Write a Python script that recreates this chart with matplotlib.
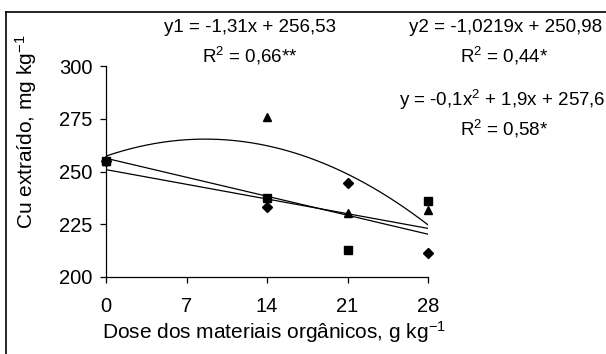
import numpy as np
import matplotlib
matplotlib.use("Agg")
import matplotlib.pyplot as plt
from matplotlib.lines import Line2D

plt.rcParams['font.family'] = ['Liberation Sans', 'DejaVu Sans']
plt.rcParams['mathtext.fontset'] = 'custom'
plt.rcParams['mathtext.rm'] = 'Liberation Sans'
plt.rcParams['mathtext.it'] = 'Liberation Sans'
plt.rcParams['mathtext.default'] = 'regular'

# dados
doses = [0, 7, 14, 21, 28]
x_obs = [0, 14, 21, 28]
y_losango = [255, 233.2, 244.5, 211.4]   # y1
y_quadrado = [255, 237.4, 212.7, 235.8]  # y2
y_triangulo = [255, 276.0, 230.4, 231.6]  # quadrática

eq_y1 = ["y1 = -1,31x + 256,53", "R$^{2}$ = 0,66**"]
eq_y2 = ["y2 = -1,0219x + 250,98", "R$^{2}$ = 0,44*"]
eq_y3 = ["y = -0,1x$^{2}$ + 1,9x + 257,6", "R$^{2}$ = 0,58*"]

fs_tick = 14.5
fs_lab = 15
fs_eq = 13.5

fig = plt.figure(figsize=(6.06, 3.54), dpi=100)
ax = fig.add_axes([106/606, 1 - 277/354, (428 - 106)/606, (277 - 66)/354])

# linhas de tendência
xx = np.linspace(0, 28, 200)
for ys, grau in [(y_losango, 1), (y_quadrado, 1), (y_triangulo, 2)]:
    coef = np.polyfit(x_obs, ys, grau)
    ax.plot(xx, np.polyval(coef, xx), color='black', lw=0.9, zorder=2)

ax.plot(x_obs, y_losango, 'D', color='black', ms=5, zorder=3, clip_on=False)
ax.plot(x_obs, y_triangulo, '^', color='black', ms=6, zorder=3, clip_on=False)
ax.plot(x_obs, y_quadrado, 's', color='black', ms=5.5, zorder=4, clip_on=False)

ax.set_xlim(0, 28)
ax.set_ylim(200, 300)
ax.set_xticks(doses)
ax.set_yticks([200, 225, 250, 275, 300])
ax.spines['top'].set_visible(False)
ax.spines['right'].set_visible(False)
for s in ['left', 'bottom']:
    ax.spines[s].set_linewidth(0.9)
ax.tick_params(direction='out', length=4.5, width=0.9, labelsize=fs_tick)
ax.tick_params(axis='y', pad=5)
ax.tick_params(axis='x', pad=10)

fig.text(26/606, 1 - 132/354, "Cu extraído, mg kg$^{-1}$", rotation=90,
         ha='center', va='center', fontsize=fs_lab)
fig.text(274/606, 1 - 339/354, "Dose dos materiais orgânicos, g kg$^{-1}$",
         ha='center', va='baseline', fontsize=fs_lab)

fig.text(250/606, 1 - 27/354, eq_y1[0], ha='center', va='center', fontsize=fs_eq)
fig.text(250/606, 1 - 56/354, eq_y1[1], ha='center', va='center', fontsize=fs_eq)
fig.text(506/606, 1 - 27/354, eq_y2[0], ha='center', va='center', fontsize=fs_eq)
fig.text(504/606, 1 - 56/354, eq_y2[1], ha='center', va='center', fontsize=fs_eq)
fig.text(502/606, 1 - 100/354, eq_y3[0], ha='center', va='center', fontsize=fs_eq)
fig.text(504/606, 1 - 129/354, eq_y3[1], ha='center', va='center', fontsize=fs_eq)

# moldura externa
fig.add_artist(Line2D([6/606, 6/606], [0, 1 - 12/354], color='black', lw=1.2,
                      transform=fig.transFigure))
fig.add_artist(Line2D([6/606, 1], [1 - 12/354, 1 - 12/354], color='black', lw=1.2,
                      transform=fig.transFigure))

fig.savefig("out.png", dpi=100)
